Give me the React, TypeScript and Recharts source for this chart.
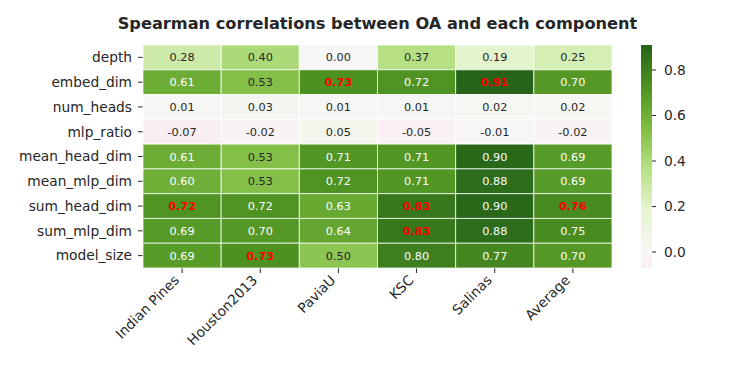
import { ScatterChart, Scatter, XAxis, YAxis, BarChart, Bar } from "recharts";

const metrics = [
  "depth",
  "embed_dim",
  "num_heads",
  "mlp_ratio",
  "mean_head_dim",
  "mean_mlp_dim",
  "sum_head_dim",
  "sum_mlp_dim",
  "model_size",
];
const datasets = ["Indian Pines", "Houston2013", "PaviaU", "KSC", "Salinas", "Average"];

// one array per dataset, in the order of `metrics`
const indianPines = [0.28, 0.61, 0.01, -0.07, 0.61, 0.6, 0.72, 0.69, 0.69];
const houston2013 = [0.4, 0.53, 0.03, -0.02, 0.53, 0.53, 0.72, 0.7, 0.73];
const paviaU = [0.0, 0.73, 0.01, 0.05, 0.71, 0.72, 0.63, 0.64, 0.5];
const ksc = [0.37, 0.72, 0.01, -0.05, 0.71, 0.71, 0.83, 0.83, 0.8];
const salinas = [0.19, 0.91, 0.02, -0.01, 0.9, 0.88, 0.9, 0.88, 0.77];
const average = [0.25, 0.7, 0.02, -0.02, 0.69, 0.69, 0.76, 0.75, 0.7];

const columns = [indianPines, houston2013, paviaU, ksc, salinas, average];
const colorbarTicks = [0, 0.2, 0.4, 0.6, 0.8];

const W = 747;
const H = 374;
const PLOT = { left: 143, right: 612, top: 45, bottom: 268 };
const CELL_W = (PLOT.right - PLOT.left) / datasets.length;
const CELL_H = (PLOT.bottom - PLOT.top) / metrics.length;
const FONT = "'DejaVu Sans', sans-serif";
const INK = "#262626";

const allValues = columns.flat();
const vmin = Math.min(...allValues);
const vmax = Math.max(...allValues);
const vrange = Math.max(Math.abs(vmin), Math.abs(vmax));

const PIYG = [
  "#8e0152", "#c51b7d", "#de77ae", "#f1b6da", "#fde0ef", "#f7f7f7",
  "#e6f5d0", "#b8e186", "#7fbc41", "#4d9221", "#276419",
];

const hexToRgb = (h: string) => [1, 3, 5].map((i) => parseInt(h.slice(i, i + 2), 16));

const piyg = (t: number) => {
  const s = Math.max(0, Math.min(1, t)) * 10;
  const i = Math.min(Math.floor(s), 9);
  const f = s - i;
  const a = hexToRgb(PIYG[i]);
  const b = hexToRgb(PIYG[i + 1]);
  return a.map((c, k) => Math.round(c + (b[k] - c) * f));
};

const valueRgb = (v: number) => piyg(0.5 + v / (2 * vrange));
const rgbStr = (c: number[]) => `rgb(${c[0]},${c[1]},${c[2]})`;

const luminance = (c: number[]) => {
  const lin = c.map((x) => {
    const s = x / 255;
    return s <= 0.03928 ? s / 12.92 : Math.pow((s + 0.055) / 1.055, 2.4);
  });
  return 0.2126 * lin[0] + 0.7152 * lin[1] + 0.0722 * lin[2];
};

const colMax = columns.map((col) => Math.max(...col));

const cells = columns.flatMap((col, j) =>
  col.map((v, i) => ({ x: j, y: i, v, best: v === colMax[j] }))
);

const HeatCell = (props: any) => {
  const { cx, cy, payload } = props;
  const rgb = valueRgb(payload.v);
  const textColor = payload.best ? "#ff0000" : luminance(rgb) > 0.408 ? INK : "#ffffff";
  return (
    <g>
      <rect
        x={cx - CELL_W / 2}
        y={cy - CELL_H / 2}
        width={CELL_W}
        height={CELL_H}
        fill={rgbStr(rgb)}
        stroke="rgba(255,255,255,0.75)"
        strokeWidth={1}
      />
      <text
        x={cx}
        y={cy}
        dy="0.36em"
        textAnchor="middle"
        fontFamily={FONT}
        fontSize={11.3}
        fontWeight={payload.best ? 700 : 400}
        fill={textColor}
      >
        {payload.v.toFixed(2)}
      </text>
    </g>
  );
};

const XTick = (props: any) => {
  const { x, y, payload } = props;
  return (
    <g transform={`translate(${x - 2},${y + 8})`}>
      <text
        textAnchor="end"
        transform="rotate(-45)"
        fontFamily={FONT}
        fontSize={13.75}
        fill={INK}
      >
        {datasets[payload.value]}
      </text>
    </g>
  );
};

const barData = [{ name: "cbar", range: [vmin, vmax] }];
const gradientStops = Array.from({ length: 41 }, (_, k) => k / 40);

export default function App() {
  return (
    <div style={{ position: "absolute", left: 0, top: 0, width: W, height: H, background: "#fff" }}>
      <div
        style={{
          position: "absolute",
          left: 0,
          top: 16,
          width: 2 * ((PLOT.left + PLOT.right) / 2),
          textAlign: "center",
          fontFamily: FONT,
          fontWeight: 700,
          fontSize: 16.2,
          lineHeight: "16px",
          color: INK,
        }}
      >
        Spearman correlations between OA and each component
      </div>

      <div style={{ position: "absolute", left: 0, top: 0 }}>
        <ScatterChart
          width={W}
          height={H}
          margin={{ top: PLOT.top, right: W - PLOT.right, bottom: 0, left: 0 }}
        >
          <XAxis
            type="number"
            dataKey="x"
            domain={[-0.5, datasets.length - 0.5]}
            ticks={datasets.map((_, j) => j)}
            interval={0}
            axisLine={false}
            tickLine={{ stroke: INK, strokeWidth: 1 }}
            tickSize={5}
            tickMargin={0}
            height={H - PLOT.bottom}
            tick={<XTick />}
          />
          <YAxis
            type="number"
            dataKey="y"
            reversed
            domain={[-0.5, metrics.length - 0.5]}
            ticks={metrics.map((_, i) => i)}
            interval={0}
            width={PLOT.left}
            axisLine={false}
            tickLine={{ stroke: INK, strokeWidth: 1 }}
            tickSize={5}
            tickMargin={6}
            tickFormatter={(i: number) => metrics[i]}
            tick={{ fontFamily: FONT, fontSize: 13.75, fill: INK }}
          />
          <Scatter data={cells} shape={<HeatCell />} isAnimationActive={false} />
        </ScatterChart>
      </div>

      <div style={{ position: "absolute", left: 0, top: 0 }}>
        <BarChart
          width={W}
          height={H}
          data={barData}
          barCategoryGap={0}
          margin={{ top: PLOT.top, right: 5, bottom: H - PLOT.bottom, left: 641 }}
        >
          <defs>
            <linearGradient id="cbar" x1="0" y1="0" x2="0" y2="1">
              {gradientStops.map((o) => (
                <stop key={o} offset={o} stopColor={rgbStr(valueRgb(vmax - (vmax - vmin) * o))} />
              ))}
            </linearGradient>
          </defs>
          <XAxis dataKey="name" hide />
          <YAxis
            orientation="right"
            type="number"
            domain={[vmin, vmax]}
            ticks={colorbarTicks}
            interval={0}
            width={W - 5 - 652}
            axisLine={false}
            tickLine={{ stroke: INK, strokeWidth: 1 }}
            tickSize={4}
            tickMargin={8}
            tickFormatter={(v: number) => v.toFixed(1)}
            tick={{ fontFamily: FONT, fontSize: 13.75, fill: INK }}
          />
          <Bar dataKey="range" fill="url(#cbar)" isAnimationActive={false} />
        </BarChart>
      </div>
    </div>
  );
}
